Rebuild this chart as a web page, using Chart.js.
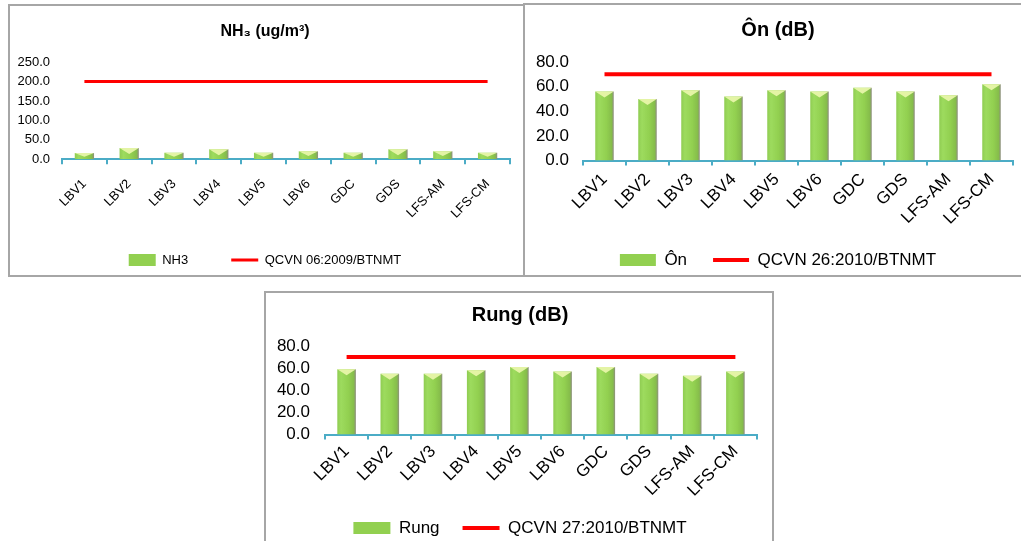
<!DOCTYPE html>
<html>
<head>
<meta charset="utf-8">
<script src="https://cdn.jsdelivr.net/npm/chart.js@4.4.1/dist/chart.umd.min.js"></script>
<style>
  body { margin: 0; background: #fff; }
  .khung { position: absolute; box-sizing: border-box; border: 2px solid #a6a6a6; background: #fff; }
</style>
</head>
<body>
<div class="khung" style="left:8px; top:4px; width:517px; height:273px;"><canvas id="nh3"></canvas></div>
<div class="khung" style="left:523px; top:3px; width:502px; height:274px;"><canvas id="on"></canvas></div>
<div class="khung" style="left:264px; top:291px; width:510px; height:260px;"><canvas id="rung"></canvas></div>
<script>
const diem = ['LBV1', 'LBV2', 'LBV3', 'LBV4', 'LBV5', 'LBV6', 'GDC', 'GDS', 'LFS-AM', 'LFS-CM'];

const nh3 = [16, 29, 17, 26, 17, 21, 17, 26, 21, 17];
const nh3_qcvn = 200;
const on = [56, 50, 57, 52, 57, 56, 59, 56, 53, 62];
const on_qcvn = 70;
const rung = [59, 55, 55, 58, 61, 57, 61, 55, 53, 57];
const rung_qcvn = 70;

const ticks_nh3 = [0, 250, 50];
const ticks_db = [0, 80, 20];

// to mau kieu hinh tru cho cot
const hinhTru = {
  id: 'hinhTru',
  beforeDatasetsDraw(chart) {
    const ctx = chart.ctx;
    chart.getDatasetMeta(0).data.forEach(bar => {
      const half = bar.width / 2;
      const g = ctx.createLinearGradient(bar.x - half, 0, bar.x + half, 0);
      g.addColorStop(0, '#8fcc52');
      g.addColorStop(0.2, '#9ddb5e');
      g.addColorStop(0.6, '#92d050');
      g.addColorStop(0.88, '#86bd4b');
      g.addColorStop(1, '#8e8e80');
      bar.options.backgroundColor = g;
    });
  },
  afterDatasetDraw(chart, args) {
    if (args.index !== 0) return;
    const ctx = chart.ctx;
    args.meta.data.forEach(bar => {
      const half = bar.width / 2;
      const h = Math.min(6, (bar.base - bar.y) * 0.6);
      ctx.save();
      ctx.fillStyle = 'rgba(232,246,170,0.95)';
      ctx.beginPath();
      ctx.moveTo(bar.x - half, bar.y);
      ctx.lineTo(bar.x + half, bar.y);
      ctx.lineTo(bar.x, bar.y + h);
      ctx.closePath();
      ctx.fill();
      ctx.restore();
    });
  }
};

// dich tieu de va chu giai vao giua vung ve, dat chu giai dung hang
const canGiua = {
  id: 'canGiua',
  afterLayout(chart, args, opts) {
    chart.titleBlock.left += opts.dich;
    const lg = chart.legend;
    const lb = lg.options.labels;
    const cao = Math.max(lb.font.size, lb.boxHeight);
    lg.left += opts.dich;
    lg.top = opts.chuY - lb.padding - cao / 2;
  }
};

function veBieuDo(id, cfg) {
  const font = cfg.font;
  return new Chart(document.getElementById(id), {
    type: 'bar',
    data: {
      labels: diem,
      datasets: [{
        label: cfg.ten,
        data: cfg.giatri,
        backgroundColor: () => '#92d050',
        borderWidth: 0,
        barPercentage: 0.43,
        categoryPercentage: 1
      }, {
        type: 'line',
        label: cfg.tenQcvn,
        data: diem.map(() => cfg.qcvn),
        borderColor: '#ff0000',
        backgroundColor: '#ff0000',
        borderWidth: cfg.doDayDuong,
        pointRadius: 0,
        pointStyle: 'line'
      }]
    },
    options: {
      responsive: true,
      maintainAspectRatio: false,
      animation: false,
      layout: { padding: cfg.padding },
      plugins: {
        canGiua: { dich: cfg.dich, chuY: cfg.chuY },
        title: {
          display: true,
          text: cfg.tieuDe,
          color: '#000',
          font: { family: font, size: cfg.coTieuDe, weight: 'bold' },
          padding: cfg.tieuDePad
        },
        legend: {
          position: 'bottom',
          labels: {
            color: '#000',
            font: { family: font, size: cfg.coChu },
            usePointStyle: true,
            pointStyleWidth: cfg.rongHop,
            boxHeight: 12,
            padding: cfg.khoangChu,
            generateLabels(chart) {
              const items = Chart.defaults.plugins.legend.labels.generateLabels(chart);
              items[0].pointStyle = 'rect';
              items[0].fillStyle = '#92d050';
              items[0].strokeStyle = '#86bd4b';
              items[0].lineWidth = 0;
              items[1].pointStyle = 'line';
              return items;
            }
          }
        },
        tooltip: { enabled: false }
      },
      scales: {
        x: {
          border: { display: true, color: '#4bacc6', width: 2 },
          grid: { display: true, drawOnChartArea: false, drawTicks: true, tickLength: 5, color: '#4bacc6', lineWidth: 2 },
          ticks: {
            color: '#000',
            font: { family: font, size: cfg.coChu },
            maxRotation: 45, minRotation: 45,
            autoSkip: false, padding: cfg.dichNhanX
          },
          afterFit(scale) { scale.height = cfg.caoTrucX; }
        },
        y: {
          min: cfg.truc[0], max: cfg.truc[1],
          border: { display: false },
          grid: { display: false, drawTicks: false },
          ticks: {
            stepSize: cfg.truc[2],
            autoSkip: false,
            color: '#000',
            font: { family: font, size: cfg.coChu },
            padding: cfg.dichNhan,
            callback: v => v.toFixed(1)
          },
          afterFit(scale) { scale.width = cfg.rongTrucY; }
        }
      }
    },
    plugins: [hinhTru, canGiua]
  });
}

veBieuDo('nh3', {
  ten: 'NH3', tenQcvn: 'QCVN 06:2009/BTNMT', tieuDe: 'NH\u2083 (ug/m\u00b3)',
  giatri: nh3, qcvn: nh3_qcvn, truc: ticks_nh3,
  font: "'Liberation Sans', Arial, sans-serif",
  coTieuDe: 16, coChu: 13, doDayDuong: 3,
  tieuDePad: { top: 16, bottom: 21 },
  padding: { left: 0, right: 13, top: 0, bottom: -20.3 },
  dich: 10, chuY: 254,
  rongTrucY: 52, dichNhan: 12, caoTrucX: 70, dichNhanX: 12,
  rongHop: 27, khoangChu: 43
});

veBieuDo('on', {
  ten: 'Ôn', tenQcvn: 'QCVN 26:2010/BTNMT', tieuDe: 'Ôn (dB)',
  giatri: on, qcvn: on_qcvn, truc: ticks_db,
  font: "'Liberation Sans', Arial, sans-serif",
  coTieuDe: 20, coChu: 17, doDayDuong: 4,
  tieuDePad: { top: 13, bottom: 20 },
  padding: { left: 0, right: 10, top: 0, bottom: -4.5 },
  dich: 18, chuY: 255,
  rongTrucY: 58, dichNhan: 14, caoTrucX: 66, dichNhanX: 4,
  rongHop: 36, khoangChu: 26
});

veBieuDo('rung', {
  ten: 'Rung', tenQcvn: 'QCVN 27:2010/BTNMT', tieuDe: 'Rung (dB)',
  giatri: rung, qcvn: rung_qcvn, truc: ticks_db,
  font: "'Liberation Sans', Arial, sans-serif",
  coTieuDe: 20, coChu: 17, doDayDuong: 4,
  tieuDePad: { top: 10, bottom: 19 },
  padding: { left: 0, right: 15, top: 0, bottom: 2.5 },
  dich: 17, chuY: 235,
  rongTrucY: 59, dichNhan: 15, caoTrucX: 62, dichNhanX: 2,
  rongHop: 37, khoangChu: 23
});
</script>
</body>
</html>
